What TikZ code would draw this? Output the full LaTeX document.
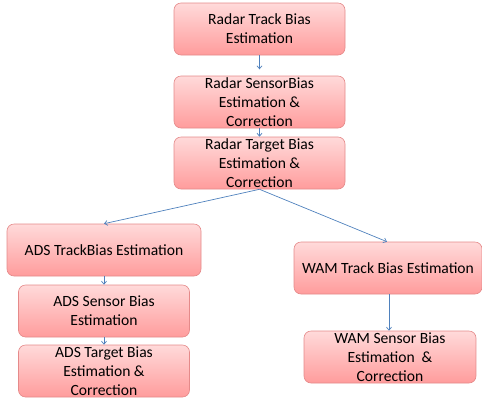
\documentclass[tikz,border=0pt]{standalone}
\usepackage{fontspec}
\setmainfont{Carlito}
\usetikzlibrary{arrows.meta}
\definecolor{boxtop}{HTML}{FFDADA}
\definecolor{boxbot}{HTML}{FF9C9C}
\definecolor{boxline}{HTML}{E58A8A}
\definecolor{arr}{HTML}{4F81BD}
\tikzset{
  pbox/.style={draw=boxline, line width=0.6pt, rounded corners=7pt, top color=boxtop, bottom color=boxbot,
    align=center, font=\fontsize{15.6}{18.8}\selectfont, inner sep=0pt},
  conn/.style={draw=arr, line width=0.7pt, -{Straight Barb[length=3pt,width=5pt]}}
}
\begin{document}
\begin{tikzpicture}[x=1pt,y=-1pt]
\useasboundingbox (0,0) rectangle (482,400);
\node[pbox, minimum width=171pt, minimum height=52pt] (rt) at (259.5,29) {Radar Track Bias\\Estimation};
\node[pbox, minimum width=171pt, minimum height=52pt] (rs) at (259.5,102) {Radar SensorBias\\Estimation \&\\Correction};
\node[pbox, minimum width=171pt, minimum height=52pt] (rg) at (259.5,163) {Radar Target Bias\\Estimation \&\\Correction};
\node[pbox, minimum width=194pt, minimum height=52pt] (at) at (104,250) {ADS TrackBias Estimation};
\node[pbox, minimum width=171pt, minimum height=52pt] (as) at (104,311) {ADS Sensor Bias\\Estimation};
\node[pbox, minimum width=171pt, minimum height=52pt] (ag) at (104,371) {ADS Target Bias\\Estimation \&\\Correction};
\node[pbox, minimum width=188pt, minimum height=52pt] (wt) at (388,268) {WAM Track Bias Estimation};
\node[pbox, minimum width=172pt, minimum height=52pt] (ws) at (390,357) {WAM Sensor Bias\\Estimation ~\&\\Correction};
\draw[conn] (rt.south) -- ++(0,14);
\draw[conn] (rs.south) -- (rg.north);
\draw[conn] (rg.south) -- (at.north);
\draw[conn] (rg.south) -- ([xshift=-1pt]wt.north);
\draw[conn] (at.south) -- (as.north);
\draw[conn] (as.south) -- (ag.north);
\draw[conn] ([xshift=1pt]wt.south) -- ([xshift=-1pt]ws.north);
\end{tikzpicture}
\end{document}
